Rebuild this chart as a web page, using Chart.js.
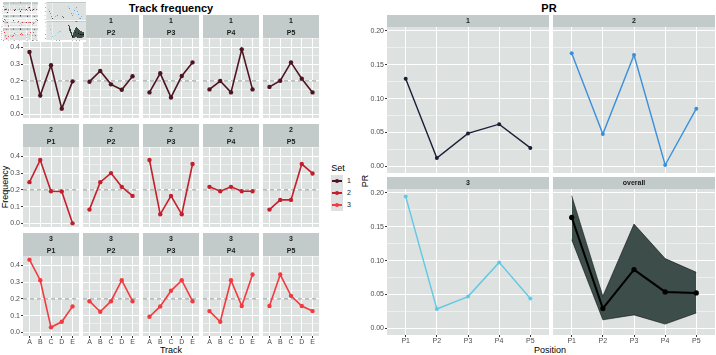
<!DOCTYPE html>
<html lang="en">
<head>
<meta charset="UTF-8">
<title>Track frequency | PR</title>
<script src="https://cdn.jsdelivr.net/npm/chart.js@4"></script>
<style>
  body { margin: 0; width: 716px; height: 355px; position: relative; overflow: hidden; background: #fff;
         font-family: "Liberation Sans", Arial, sans-serif; }
  canvas.panel { position: absolute; }
  .t { position: absolute; white-space: nowrap; color: #000; transform: translate(-50%, -50%); }
  .title { font-weight: bold; font-size: 11px; }
  .axt { font-size: 9px; }
  .key { position: absolute; left: 331px; width: 12px; height: 12px; background: #dde2e0; }
  .key i { position: absolute; left: 1px; right: 1px; top: 5px; height: 1.6px; }
  .key b { position: absolute; left: 4px; top: 4px; width: 4px; height: 4px; border-radius: 50%; }
  .kl { position: absolute; left: 347px; font-size: 7px; color: #222; }
  #thumb { position: absolute; left: 0; top: 0; z-index: 5; }
</style>
</head>
<body>

<div class="t title" style="left:171px;top:8px">Track frequency</div>
<div class="t title" style="left:549px;top:8px">PR</div>
<div class="t axt" style="left:171px;top:350px">Track</div>
<div class="t axt" style="left:550px;top:350px">Position</div>
<div class="t axt" style="left:5px;top:187px;transform:translate(-50%,-50%) rotate(-90deg)">Frequency</div>
<div class="t axt" style="left:365px;top:181px;transform:translate(-50%,-50%) rotate(-90deg)">PR</div>

<div class="t axt" style="left:338px;top:168px">Set</div>
<div id="legend"></div>

<canvas id="thumb" width="86" height="42"></canvas>

<script>
// ---- data ----
const tracks = ['A', 'B', 'C', 'D', 'E'];
const positions = ['P1', 'P2', 'P3', 'P4', 'P5'];
const sets = ['1', '2', '3'];
const setColors = ['#4e1422', '#c41f2d', '#f23a40'];
const prColors = ['#1c1f36', '#3c8fdb', '#62c9e3'];

// frequency of each track (A..E) for each position, one array per set
const freqSet1 = [
  [0.372, 0.113, 0.293, 0.034, 0.197],
  [0.195, 0.259, 0.179, 0.147, 0.227],
  [0.131, 0.245, 0.101, 0.229, 0.310],
  [0.149, 0.199, 0.131, 0.388, 0.149],
  [0.164, 0.201, 0.310, 0.213, 0.131]
];
const freqSet2 = [
  [0.246, 0.378, 0.192, 0.190, 0.000],
  [0.082, 0.246, 0.300, 0.218, 0.164],
  [0.378, 0.054, 0.164, 0.054, 0.354],
  [0.218, 0.192, 0.218, 0.192, 0.192],
  [0.082, 0.140, 0.140, 0.354, 0.298]
];
const freqSet3 = [
  [0.434, 0.311, 0.030, 0.063, 0.155],
  [0.186, 0.123, 0.186, 0.311, 0.186],
  [0.093, 0.155, 0.248, 0.311, 0.186],
  [0.127, 0.063, 0.311, 0.157, 0.345],
  [0.157, 0.345, 0.218, 0.157, 0.127]
];
const chanceLevel = 0.2;

const prSet1 = [0.1295, 0.0122, 0.0487, 0.0623, 0.0273];
const prSet2 = [0.1670, 0.0477, 0.1645, 0.0020, 0.0852];
const prSet3 = [0.1948, 0.0286, 0.0470, 0.0974, 0.0440];
const prOverall = [0.1638, 0.0295, 0.0868, 0.0538, 0.0523];
const prOverallLow = [0.1310, 0.0126, 0.0199, 0.0063, 0.0228];
const prOverallHigh = [0.1960, 0.0475, 0.1540, 0.1030, 0.0828];

const freqTicks = [0, 0.1, 0.2, 0.3, 0.4];
const prTicks = [0, 0.05, 0.1, 0.15, 0.2];

// ---- helpers ----
const PANEL_BG = '#dde2e0';
const STRIP_BG = '#c2cbc9';
const FONT = '"Liberation Sans", Arial, sans-serif';

const panelPlugin = {
  id: 'panelBg',
  beforeDraw(chart, args, opts) {
    const { ctx, chartArea: a } = chart;
    ctx.save();
    ctx.fillStyle = PANEL_BG;
    ctx.fillRect(a.left, a.top, a.right - a.left, a.bottom - a.top);
    ctx.fillStyle = STRIP_BG;
    ctx.fillRect(a.left, 0, a.right - a.left, opts.stripH);
    ctx.fillStyle = '#1a1a1a';
    ctx.font = 'bold 7px ' + FONT;
    ctx.textAlign = 'center';
    ctx.textBaseline = 'middle';
    const n = opts.lines.length;
    opts.lines.forEach((t, i) => {
      ctx.fillText(t, (a.left + a.right) / 2, opts.stripH * (i + 0.5) / n + 0.5);
    });
    ctx.restore();
  }
};

function pts(arr) { return arr.map((v, i) => ({ x: i + 1, y: v })); }

function withMinor(major) {
  const out = [];
  major.forEach((v, i) => {
    out.push({ value: v });
    const next = i < major.length - 1 ? major[i + 1] : v + (v - major[i - 1]);
    out.push({ value: (v + next) / 2, minor: true });
  });
  return out;
}

function makePanel(o) {
  const padL = 30, padR = 6, padB = 16;
  const c = document.createElement('canvas');
  c.className = 'panel';
  c.width = padL + o.w + padR;
  c.height = o.stripH + o.h + padB;
  c.style.left = (o.left - padL) + 'px';
  c.style.top = o.top + 'px';
  document.body.appendChild(c);

  new Chart(c, {
    type: 'line',
    data: { datasets: o.datasets },
    options: {
      responsive: false, animation: false, devicePixelRatio: 1,
      layout: { padding: { top: o.stripH, right: padR, left: 0, bottom: 0 } },
      plugins: { legend: { display: false }, tooltip: { enabled: false },
                 panelBg: { stripH: o.stripH, lines: o.lines } },
      scales: {
        x: {
          type: 'linear', min: 0.4, max: 5.6,
          afterBuildTicks: s => { s.ticks = o.cats.map((_, i) => ({ value: i + 1 })); },
          afterFit: s => { s.height = padB; },
          ticks: { display: o.xLabels, padding: 0, color: '#4d4d4d', font: { size: 7, family: FONT },
                   callback: v => o.cats[Math.round(v) - 1] },
          grid: { color: '#fff', lineWidth: 1, drawTicks: o.xLabels, tickLength: 2, tickColor: '#333' },
          border: { display: false }
        },
        y: {
          min: o.yMin, max: o.yMax,
          afterBuildTicks: s => { s.ticks = withMinor(o.yTicks).filter(t => t.value <= o.yMax); },
          afterFit: s => { s.width = padL; },
          ticks: { display: o.yLabels, padding: 1, color: '#4d4d4d', font: { size: 7, family: FONT },
                   callback: (v, i, t) => t[i].minor ? '' : v.toFixed(o.digits) },
          grid: {
            color: '#fff',
            lineWidth: ctx => ctx.tick && ctx.tick.minor ? 0.5 : 1,
            drawTicks: o.yLabels, tickLength: 2,
            tickColor: ctx => ctx.tick && ctx.tick.minor ? 'rgba(0,0,0,0)' : '#333'
          },
          border: { display: false }
        }
      }
    },
    plugins: [panelPlugin]
  });
}

// ---- left: track frequency facets ----
const freqBySet = [freqSet1, freqSet2, freqSet3];
const LCOLS = [23, 83, 143, 203, 263];
const LROWS = [15, 124, 233];
freqBySet.forEach((setData, r) => {
  setData.forEach((vals, ci) => {
    makePanel({
      left: LCOLS[ci], top: LROWS[r], w: 56, h: 80, stripH: 23,
      lines: [sets[r], positions[ci]],
      cats: tracks, xLabels: r === 2, yLabels: ci === 0,
      yMin: -0.0217, yMax: 0.4557, yTicks: freqTicks, digits: 1,
      datasets: [
        { data: pts(vals), borderColor: setColors[r], backgroundColor: setColors[r],
          borderWidth: 1.6, pointRadius: 2.2, pointBorderWidth: 0, order: 0 },
        { data: [{ x: 0.4, y: chanceLevel }, { x: 5.6, y: chanceLevel }], borderColor: '#8a8f8e',
          borderWidth: 0.9, borderDash: [4, 3], pointRadius: 0, order: 1 }
      ]
    });
  });
});

// ---- right: PR facets ----
const RCOLS = [387, 553];
const RROWS = [15, 177];
const prPanels = [
  { name: '1', data: prSet1, color: prColors[0] },
  { name: '2', data: prSet2, color: prColors[1] },
  { name: '3', data: prSet3, color: prColors[2] },
  { name: 'overall', data: prOverall, color: '#000' }
];
prPanels.forEach((p, k) => {
  const r = Math.floor(k / 2), ci = k % 2;
  const ds = [];
  if (p.name === 'overall') {
    ds.push({ data: pts(prOverallHigh), borderColor: '#111', borderWidth: 0.6, pointRadius: 0,
              backgroundColor: '#3d4d49', fill: '+1', order: 2 });
    ds.push({ data: pts(prOverallLow), borderColor: '#111', borderWidth: 0.6, pointRadius: 0,
              fill: false, order: 1 });
    ds.push({ data: pts(p.data), borderColor: '#000', backgroundColor: '#000', borderWidth: 2,
              pointRadius: 2.6, pointBorderWidth: 0, order: 0 });
  } else {
    ds.push({ data: pts(p.data), borderColor: p.color, backgroundColor: p.color, borderWidth: 1.4,
              pointRadius: 2, pointBorderWidth: 0 });
  }
  makePanel({
    left: RCOLS[ci], top: RROWS[r], w: 162, h: 146, stripH: 12,
    lines: [p.name], cats: positions, xLabels: r === 1, yLabels: ci === 0,
    yMin: -0.0098, yMax: 0.2058, yTicks: prTicks, digits: 2,
    datasets: ds
  });
});

// ---- legend ----
const legend = document.getElementById('legend');
sets.forEach((s, i) => {
  const y = 175 + i * 12;
  legend.insertAdjacentHTML('beforeend',
    `<div class="key" style="top:${y}px"><i style="background:${setColors[i]}"></i><b style="background:${setColors[i]}"></b></div>` +
    `<div class="kl" style="top:${y + 2}px">${s}</div>`);
});

// ---- small thumbnail of the whole figure in the corner ----
const thumb = document.getElementById('thumb');
const tctx = thumb.getContext('2d');
tctx.fillStyle = '#fff';
tctx.fillRect(0, 0, thumb.width, thumb.height);
tctx.save();
tctx.scale(thumb.width / 716, thumb.height / 355);
document.querySelectorAll('canvas.panel').forEach(cv => {
  tctx.drawImage(cv, parseFloat(cv.style.left), parseFloat(cv.style.top));
});
tctx.restore();
</script>
</body>
</html>
